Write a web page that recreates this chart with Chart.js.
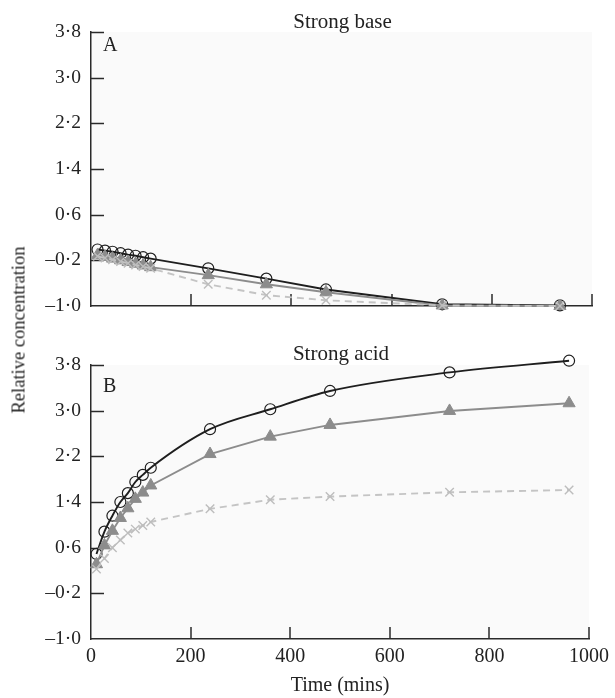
<!DOCTYPE html>
<html><head><meta charset="utf-8">
<script src="https://cdn.jsdelivr.net/npm/chart.js@4"></script>
<style>
html,body{margin:0;padding:0;background:#fff;}
#wrap{position:relative;width:615px;height:698px;overflow:hidden;}
#c1{position:absolute;left:0;top:0;width:615px;height:330px;}
#c2{position:absolute;left:0;top:330px;width:615px;height:368px;}
#ylab{position:absolute;left:19px;top:330px;transform:translate(-50%,-50%) rotate(-90deg);font:18.5px 'Liberation Serif';white-space:nowrap;color:#222;}
</style></head><body>
<div id="wrap">
<canvas id="c1" width="615" height="330"></canvas>
<canvas id="c2" width="615" height="368"></canvas>
<div id="ylab">Relative concentration</div>
</div>
<script>
// ---- data ----
const timesA = [13, 28, 43, 59, 74, 89, 104, 119, 234, 350, 469, 701, 936];
const baseCircle   = [-0.01, -0.03, -0.05, -0.075, -0.10, -0.12, -0.145, -0.17, -0.34, -0.52, -0.71, -0.97, -0.99];
const baseTriangle = [-0.11, -0.14, -0.17, -0.20, -0.23, -0.26, -0.29, -0.32, -0.46, -0.62, -0.76, -0.99, -1.0];
const baseCross    = [-0.13, -0.16, -0.19, -0.22, -0.25, -0.28, -0.31, -0.34, -0.62, -0.81, -0.90, -0.99, -1.0];

const timesB = [11, 27, 43, 59, 74, 89, 104, 120, 239, 360, 480, 720, 960];
const acidCircle   = [0.49, 0.88, 1.16, 1.40, 1.555, 1.75, 1.875, 2.0, 2.675, 3.025, 3.345, 3.67, 3.875];
const acidTriangle = [0.31, 0.64, 0.895, 1.12, 1.29, 1.455, 1.565, 1.69, 2.24, 2.545, 2.75, 2.995, 3.13];
const acidCross    = [0.225, 0.41, 0.60, 0.735, 0.855, 0.925, 0.99, 1.05, 1.28, 1.44, 1.495, 1.57, 1.61];

const yTickValues = [-1.0, -0.2, 0.6, 1.4, 2.2, 3.0, 3.8];
const yTickLabels = ['\u20131\u00b70', '\u20130\u00b72', '0\u00b76', '1\u00b74', '2\u00b72', '3\u00b70', '3\u00b78'];
const xTickValues = [0, 200, 400, 600, 800, 1000];
const xTickLabels = ['0', '200', '400', '600', '800', '1000'];
const panelTitles = ['Strong base', 'Strong acid'];
const panelLetters = ['A', 'B'];
const xTitle = 'Time (mins)';

const FONT = "'Liberation Serif', 'DejaVu Serif', serif";
const AXIS = '#2a2a2a';

function pts(xs, ys){ return xs.map((x,i)=>({x:x, y:ys[i]})); }

const bgPlugin = {
  id:'bgPlugin',
  beforeDraw(chart){
    const a = chart.chartArea, ctx = chart.ctx;
    ctx.save(); ctx.fillStyle = '#fafafa';
    ctx.fillRect(a.left, a.top, a.right - a.left, a.bottom - a.top);
    ctx.restore();
  }
};

const tickPlugin = {
  id:'tickPlugin',
  beforeDatasetsDraw(chart){
    const ctx = chart.ctx, a = chart.chartArea, xs = chart.scales.x, ys = chart.scales.y;
    ctx.save(); ctx.strokeStyle = AXIS; ctx.lineWidth = 1.5;
    ys.ticks.forEach(t=>{
      if (t.value === ys.min) return;
      const p = Math.round(ys.getPixelForValue(t.value)) + 0.5;
      ctx.beginPath(); ctx.moveTo(a.left, p); ctx.lineTo(a.left + 13, p); ctx.stroke();
    });
    xs.ticks.forEach(t=>{
      if (t.value === xs.min) return;
      const p = Math.round(xs.getPixelForValue(t.value));
      ctx.beginPath(); ctx.moveTo(p, a.bottom); ctx.lineTo(p, a.bottom - 12); ctx.stroke();
    });
    ctx.restore();
  }
};

const textPlugin = {
  id:'textPlugin',
  afterDraw(chart, args, opts){
    const ctx = chart.ctx, a = chart.chartArea;
    ctx.save();
    ctx.fillStyle = '#222';
    ctx.textBaseline = 'alphabetic';
    ctx.font = '21px ' + FONT;
    ctx.textAlign = 'center';
    ctx.fillText(opts.title, (a.left + a.right) / 2 + 1, a.top + opts.titleDy);
    ctx.textAlign = 'left';
    ctx.font = '20px ' + FONT;
    ctx.fillText(opts.letter, a.left + 12, a.top + opts.letterDy);
    ctx.restore();
  }
};

function makeDatasets(xs, c, t, k, blackMode){
  return [
    { data: pts(xs, k), borderColor:'#c4c4c4', borderWidth:1.9, borderDash:[7,5], clip:false,
      pointStyle:'crossRot', pointRadius:6, pointBorderColor:'#bdbdbd', pointBorderWidth:1.4,
      pointBackgroundColor:'#bdbdbd', tension:0, fill:false },
    { data: pts(xs, t), borderColor:'#8c8c8c', borderWidth:1.9, clip:false,
      pointStyle:'triangle', pointRadius:7, pointBorderColor:'#8c8c8c', pointBackgroundColor:'#8c8c8c',
      pointBorderWidth:1, tension:0, fill:false },
    { data: pts(xs, c), borderColor:'#1e1e1e', borderWidth:1.9, clip:false,
      pointStyle:'circle', pointRadius:5.5, pointBorderColor:'#1e1e1e', pointBackgroundColor:'rgba(255,255,255,0)',
      pointBorderWidth:1.2, cubicInterpolationMode: blackMode, fill:false }
  ];
}

function makeOptions(showX, padTop, xHeight, textOpts){
  return {
    responsive:false, animation:false, devicePixelRatio:1,
    layout:{ padding:{ left:0, right:23, top:padTop, bottom:0 } },
    plugins:{ legend:{display:false}, tooltip:{enabled:false}, title:{display:false}, textPlugin:textOpts },
    scales:{
      x:{ type:'linear', min:0, max:1000,
        afterBuildTicks(s){ s.ticks = xTickValues.map(v=>({value:v})); },
        afterFit(s){ s.height = xHeight; },
        grid:{ display:true, drawOnChartArea:false, drawTicks:false },
        border:{ display:true, color:AXIS, width:1.5 },
        ticks:{ display:showX, padding:6, color:'#222', font:{family:FONT, size:20},
          maxRotation:0, autoSkip:false,
          callback(v){ const i = xTickValues.indexOf(v); return i >= 0 ? xTickLabels[i] : ''; } },
        title:{ display:showX, text:xTitle, color:'#222', font:{family:FONT, size:20}, padding:{top:0,bottom:0} }
      },
      y:{ type:'linear', min:-1.0, max:3.8,
        afterBuildTicks(s){ s.ticks = yTickValues.map(v=>({value:v})); },
        afterFit(s){ s.width = 91; },
        grid:{ display:true, drawOnChartArea:false, drawTicks:false },
        border:{ display:true, color:AXIS, width:1.5 },
        ticks:{ padding:10, color:'#222', font:{family:FONT, size:19.5}, autoSkip:false,
          callback(v){ const i = yTickValues.findIndex(q=>Math.abs(q-v)<1e-6); return i >= 0 ? yTickLabels[i] : ''; } }
      }
    }
  };
}

new Chart(document.getElementById('c1'), {
  type:'line',
  data:{ datasets: makeDatasets(timesA, baseCircle, baseTriangle, baseCross, 'default') },
  options: makeOptions(false, 32, 24, { title:panelTitles[0], letter:panelLetters[0], titleDy:-4, letterDy:19 }),
  plugins:[bgPlugin, tickPlugin, textPlugin]
});

new Chart(document.getElementById('c2'), {
  type:'line',
  data:{ datasets: makeDatasets(timesB, acidCircle, acidTriangle, acidCross, 'monotone') },
  options: makeOptions(true, 35, 59, { title:panelTitles[1], letter:panelLetters[1], titleDy:-5, letterDy:27 }),
  plugins:[bgPlugin, tickPlugin, textPlugin]
});
</script>
</body></html>
